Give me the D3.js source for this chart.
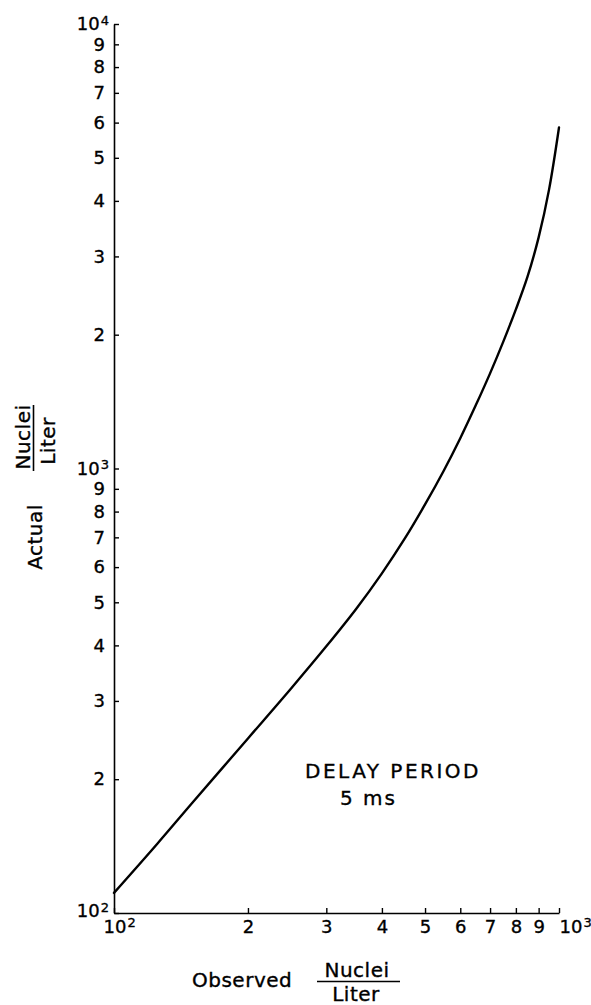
<!DOCTYPE html>
<html>
<head>
<meta charset="utf-8">
<script src="https://cdn.jsdelivr.net/npm/d3@7"></script>
<style>
  html, body { margin: 0; padding: 0; background: #fff; }
  svg { display: block; }
  text { font-family: "DejaVu Sans", sans-serif; fill: #000; stroke: #000; stroke-width: 0.35px; }
</style>
</head>
<body>
<svg id="chart" width="591" height="1005"></svg>
<script>
// ---- data ----
const observed = [100, 125, 150, 200, 250, 300, 350, 400, 450, 500,
                  550, 600, 650, 700, 750, 800, 850, 900, 950, 1000];
const actual   = [111, 143, 177, 247, 320, 398, 483, 581, 695, 830,
                  986, 1170, 1387, 1637, 1932, 2280, 2704, 3311, 4246, 5850];
const xTicks = [100, 200, 300, 400, 500, 600, 700, 800, 900, 1000];
const xTickLabels = ["10|2", "2", "3", "4", "5", "6", "7", "8", "9", "10|3"];
const yTicks = [100, 200, 300, 400, 500, 600, 700, 800, 900,
                1000, 2000, 3000, 4000, 5000, 6000, 7000, 8000, 9000, 10000];
const yTickLabels = ["10|2", "2", "3", "4", "5", "6", "7", "8", "9",
                     "10|3", "2", "3", "4", "5", "6", "7", "8", "9", "10|4"];
const xTitle = "Observed";
const yTitle = "Actual";
const fracTop = "Nuclei";
const fracBottom = "Liter";
const annotation = ["DELAY PERIOD", "5 ms"];

// ---- layout ----
const svg = d3.select("#chart");
const x = d3.scaleLog().domain([100, 1000]).range([114, 559]);
const y = d3.scaleLog().domain([100, 10000]).range([913, 24]);

function writeLabel(sel, lab) {
  sel.text(null);
  const parts = lab.split("|");
  sel.append("tspan").text(parts[0]);
  if (parts.length > 1) {
    sel.append("tspan").attr("dy", "-0.42em").attr("font-size", "13px").attr("dx", "1").text(parts[1]);
  }
}

// x axis
const xAxis = d3.axisBottom(x).tickValues(xTicks)
  .tickSizeInner(-5).tickSizeOuter(0).tickPadding(7)
  .tickFormat((d, i) => xTickLabels[i]);
const gx = svg.append("g").attr("transform", "translate(0,913)").call(xAxis);
gx.select(".domain").attr("stroke-width", 1.6);
gx.selectAll(".tick line").attr("stroke-width", 1.4);
gx.selectAll(".tick text")
  .attr("font-size", "18px")
  .each(function (d, i) {
    const t = d3.select(this);
    const lab = xTickLabels[i];
    writeLabel(t, lab);
    if (lab.indexOf("|") >= 0) {
      t.attr("text-anchor", "start").attr("x", i === 0 ? -11 : 0);
    }
  });

// y axis
const yAxis = d3.axisLeft(y).tickValues(yTicks)
  .tickSizeInner(-5).tickSizeOuter(0).tickPadding(9)
  .tickFormat((d, i) => yTickLabels[i]);
const gy = svg.append("g").attr("transform", "translate(114,0)").call(yAxis);
gy.select(".domain").attr("stroke-width", 1.6);
gy.selectAll(".tick line").attr("stroke-width", 1.4);
gy.selectAll(".tick text")
  .attr("font-size", "18px")
  .each(function (d, i) {
    const t = d3.select(this);
    const lab = yTickLabels[i];
    writeLabel(t, lab);
    if (lab.indexOf("|") >= 0) {
      t.attr("x", -5);
      if (i === 0) t.attr("dy", "0.2em");
    }
  });

// curve
const pts = observed.map((v, i) => [v, actual[i]]);
svg.append("path")
  .datum(pts)
  .attr("fill", "none")
  .attr("stroke", "#000")
  .attr("stroke-width", 2.4)
  .attr("stroke-linecap", "round")
  .attr("d", d3.line().x(d => x(d[0])).y(d => y(d[1])).curve(d3.curveCatmullRom.alpha(0.5)));

// annotation
svg.append("text").attr("x", 305).attr("y", 778)
  .attr("font-size", "20px").attr("letter-spacing", "2.5px").text(annotation[0]);
svg.append("text").attr("x", 340).attr("y", 805)
  .attr("font-size", "20px").attr("letter-spacing", "2px").text(annotation[1]);

// x title
svg.append("text").attr("x", 192).attr("y", 987)
  .attr("font-size", "20px").attr("letter-spacing", "0.5px").text(xTitle);
svg.append("text").attr("x", 357).attr("y", 977).attr("text-anchor", "middle")
  .attr("font-size", "20px").attr("letter-spacing", "0.5px").text(fracTop);
svg.append("line").attr("x1", 317).attr("x2", 400).attr("y1", 981.5).attr("y2", 981.5)
  .attr("stroke", "#000").attr("stroke-width", 1.6);
svg.append("text").attr("x", 356).attr("y", 1001).attr("text-anchor", "middle")
  .attr("font-size", "20px").attr("letter-spacing", "0.5px").text(fracBottom);

// y title (rotated)
svg.append("text").attr("transform", "translate(42,537) rotate(-90)")
  .attr("text-anchor", "middle").attr("font-size", "20px").attr("letter-spacing", "0.5px").text(yTitle);
svg.append("text").attr("transform", "translate(30,437) rotate(-90)")
  .attr("text-anchor", "middle").attr("font-size", "20px").attr("letter-spacing", "0.5px").text(fracTop);
svg.append("line").attr("x1", 33.5).attr("x2", 33.5).attr("y1", 405).attr("y2", 471)
  .attr("stroke", "#000").attr("stroke-width", 1.6);
svg.append("text").attr("transform", "translate(55,441) rotate(-90)")
  .attr("text-anchor", "middle").attr("font-size", "20px").attr("letter-spacing", "0.5px").text(fracBottom);
</script>
</body>
</html>
